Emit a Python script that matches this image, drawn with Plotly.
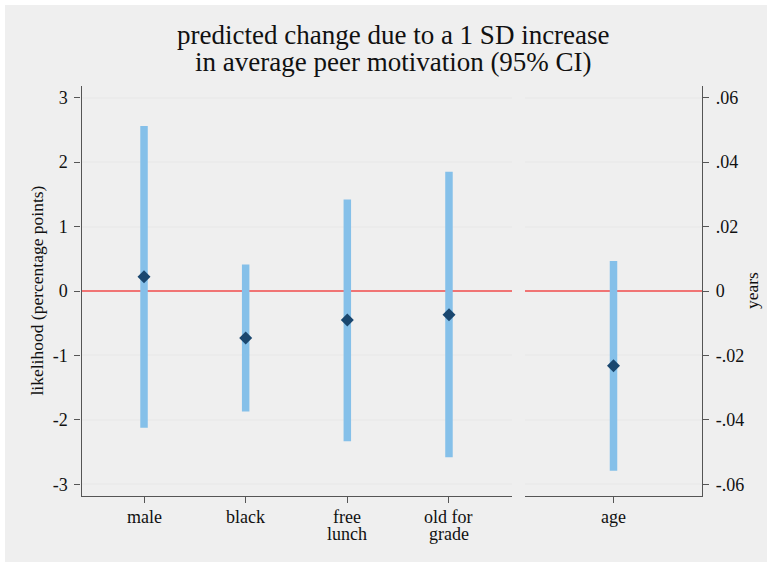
import plotly.graph_objects as go

# Effects of a 1 SD increase in average peer motivation
groups = ["male", "black", "free lunch", "old for grade"]
group_labels = [["male"], ["black"], ["free", "lunch"], ["old for", "grade"]]
group_est = [0.22, -0.73, -0.45, -0.37]
group_lo = [-2.12, -1.87, -2.33, -2.58]
group_hi = [2.56, 0.41, 1.42, 1.85]

age_label = ["age"]
age_est = [-0.0232]
age_lo = [-0.0558]
age_hi = [0.0093]

left_ticks = [-3, -2, -1, 0, 1, 2, 3]
left_ticktext = ["-3", "-2", "-1", "0", "1", "2", "3"]
right_ticks = [-0.06, -0.04, -0.02, 0, 0.02, 0.04, 0.06]
right_ticktext = ["-.06", "-.04", "-.02", "0", ".02", ".04", ".06"]

W, H = 772, 567
BAR = "#85c0e9"
PT = "#1a476f"
FONT = "'Liberation Serif', 'Times New Roman', Times, serif"
TXT = "#111111"


def px_x(p):
    return p / W


def px_y(p):
    return 1 - p / H


def ci_xy(xs, lo, hi):
    xx, yy = [], []
    for x, a, b in zip(xs, lo, hi):
        xx += [x, x, None]
        yy += [a, b, None]
    return xx, yy


gx = list(range(1, len(groups) + 1))
ax = [1]

fig = go.Figure()

cx, cy = ci_xy(gx, group_lo, group_hi)
fig.add_trace(go.Scatter(x=cx, y=cy, mode="lines", line=dict(color=BAR, width=7.5),
                         hoverinfo="skip", xaxis="x", yaxis="y"))
fig.add_trace(go.Scatter(x=gx, y=group_est, mode="markers",
                         marker=dict(symbol="diamond", size=10, color=PT),
                         xaxis="x", yaxis="y"))

cx2, cy2 = ci_xy(ax, age_lo, age_hi)
fig.add_trace(go.Scatter(x=cx2, y=cy2, mode="lines", line=dict(color=BAR, width=7.5),
                         hoverinfo="skip", xaxis="x2", yaxis="y2"))
fig.add_trace(go.Scatter(x=ax, y=age_est, mode="markers",
                         marker=dict(symbol="diamond", size=10, color=PT),
                         xaxis="x2", yaxis="y2"))

ydom = [px_y(496), px_y(86)]
axis_common = dict(
    showline=True, linecolor="#555555", linewidth=1.3,
    ticks="outside", ticklen=6, tickwidth=1.2, tickcolor="#555555",
    tickfont=dict(family=FONT, size=18, color=TXT),
)

fig.update_layout(
    width=W, height=H,
    margin=dict(l=0, r=0, t=0, b=0),
    paper_bgcolor="white",
    plot_bgcolor="white",
    showlegend=False,
    font=dict(family=FONT, color=TXT),
    xaxis=dict(domain=[px_x(81.5), px_x(512)], range=[0.385, 4.62],
               tickvals=gx, showticklabels=False, showgrid=False,
               zeroline=False, anchor="y", **axis_common),
    yaxis=dict(domain=ydom, range=[-3.18, 3.18], tickvals=left_ticks,
               ticktext=left_ticktext, showgrid=True, gridcolor="#ebebeb",
               gridwidth=1.5, zeroline=True, zerolinecolor="#f07474",
               zerolinewidth=1.5, anchor="x", ticklabelstandoff=3,
               **axis_common),
    xaxis2=dict(domain=[px_x(525), px_x(702)], range=[0.5, 1.5],
                tickvals=ax, showticklabels=False, showgrid=False,
                zeroline=False, anchor="y2", **axis_common),
    yaxis2=dict(domain=ydom, range=[-0.0636, 0.0636], tickvals=right_ticks,
                ticktext=right_ticktext, side="right", showgrid=True,
                gridcolor="#ebebeb", gridwidth=1.5, zeroline=True,
                zerolinecolor="#f07474", zerolinewidth=1.5, anchor="x2",
                ticklabelstandoff=3, **axis_common),
)

# Gray backdrop inset from the page edge
fig.add_shape(type="rect", xref="paper", yref="paper", layer="below",
              x0=px_x(5), x1=px_x(767), y0=px_y(562), y1=px_y(5),
              fillcolor="#efefef", line=dict(width=0))

annotations = []
# Title, two lines
for text, yc in [("predicted change due to a 1 SD increase", 35),
                 ("in average peer motivation (95% CI)", 62)]:
    annotations.append(dict(text=text, x=px_x(393), y=px_y(yc), xref="paper", yref="paper",
                            xanchor="center", yanchor="middle", showarrow=False,
                            font=dict(family=FONT, size=27, color=TXT)))

# Category labels, tightly spaced lines
for x, lines in zip(gx, group_labels):
    for i, ln in enumerate(lines):
        annotations.append(dict(text=ln, x=x, y=px_y(517 + 17 * i), xref="x", yref="paper",
                                xanchor="center", yanchor="middle", showarrow=False,
                                font=dict(family=FONT, size=18, color=TXT)))
for x, ln in zip(ax, age_label):
    annotations.append(dict(text=ln, x=x, y=px_y(517), xref="x2", yref="paper",
                            xanchor="center", yanchor="middle", showarrow=False,
                            font=dict(family=FONT, size=18, color=TXT)))

# Axis titles
annotations.append(dict(text="likelihood (percentage points)", x=px_x(36.5), y=px_y(291),
                        xref="paper", yref="paper", xanchor="center", yanchor="middle",
                        textangle=-90, showarrow=False,
                        font=dict(family=FONT, size=17.5, color=TXT)))
annotations.append(dict(text="years", x=px_x(752), y=px_y(291),
                        xref="paper", yref="paper", xanchor="center", yanchor="middle",
                        textangle=-90, showarrow=False,
                        font=dict(family=FONT, size=17.5, color=TXT)))

fig.update_layout(annotations=annotations)

fig.write_html("out.html")
